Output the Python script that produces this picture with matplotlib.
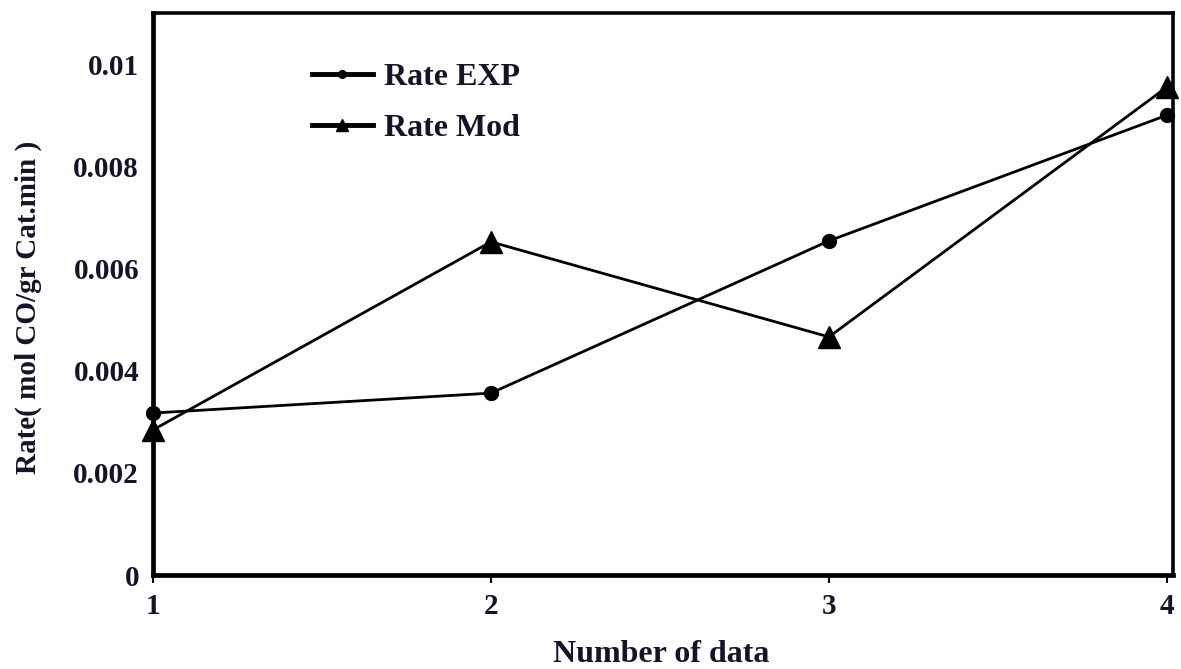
import matplotlib
matplotlib.use("Agg")
import matplotlib.pyplot as plt

# Data
x_vals = [1, 2, 3, 4]
rate_exp = [0.00317, 0.00356, 0.00654, 0.00900]
rate_mod = [0.00284, 0.00652, 0.00466, 0.00955]
y_ticks = [0, 0.002, 0.004, 0.006, 0.008, 0.01]
y_tick_labels = ["0", "0.002", "0.004", "0.006", "0.008", "0.01"]
x_ticks = [1, 2, 3, 4]
x_tick_labels = ["1", "2", "3", "4"]

plt.rcParams['font.family'] = ['Liberation Serif', 'DejaVu Serif']
plt.rcParams['font.weight'] = 'bold'
txt_color = '#141428'

W, H = 1181, 669
fig = plt.figure(figsize=(W / 100, H / 100), dpi=100)
ax = fig.add_axes([153 / W, 1 - 575 / H, (1173 - 153) / W, (575 - 13) / H])

ax.plot(x_vals, rate_exp, color='k', lw=2.0, marker='o', ms=10,
        label='Rate EXP', clip_on=False, zorder=3)
ax.plot(x_vals, rate_mod, color='k', lw=2.0, marker='^', ms=16,
        label='Rate Mod', clip_on=False, zorder=3)

ax.set_xlim(1, 4.018)
ax.set_ylim(0, 0.011)

ax.set_xticks(x_ticks)
ax.set_xticklabels(x_tick_labels, fontsize=21, fontweight='bold', color=txt_color)
ax.set_yticks(y_ticks)
ax.set_yticklabels(y_tick_labels, fontsize=21, fontweight='bold', color=txt_color)
ax.tick_params(axis='x', direction='out', length=6, width=1.5, pad=7)
ax.tick_params(axis='y', length=0, pad=10)

ax.spines['left'].set_linewidth(3.4)
ax.spines['bottom'].set_linewidth(3.4)
ax.spines['top'].set_linewidth(2.6)
ax.spines['right'].set_linewidth(2.6)

fig.text(553 / W, 1 - 655 / H, 'Number of data', fontsize=23, fontweight='bold',
         color=txt_color, ha='left', va='center')
fig.text(28 / W, 1 - 307 / H, 'Rate( mol CO/gr Cat.min )', fontsize=21,
         fontweight='bold', color=txt_color, rotation=90, ha='center', va='center')

leg = ax.legend(loc='upper left', bbox_to_anchor=((312 - 153) / 1020, (575 - 63) / 562),
                frameon=False, fontsize=23, handlelength=1.9, handletextpad=0.35,
                labelspacing=0.68, borderpad=0, borderaxespad=0, markerscale=0.55)
for line in leg.get_lines():
    line.set_linewidth(3.5)
for t in leg.get_texts():
    t.set_color(txt_color)
    t.set_fontweight('bold')

fig.savefig('out.png', dpi=100, facecolor='white')
